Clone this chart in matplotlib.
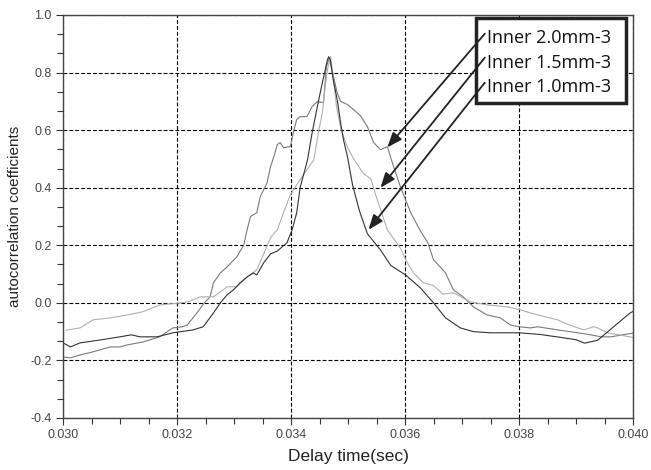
import matplotlib
matplotlib.use("Agg")
import matplotlib.pyplot as plt
from matplotlib.ticker import AutoMinorLocator
from matplotlib.patches import Rectangle

# ---- data ----
x_20 = [0.03000, 0.03013, 0.03030, 0.03053, 0.03083, 0.03100, 0.03113, 0.03140, 0.03170, 0.03180,
        0.03193, 0.03210, 0.03218, 0.03235, 0.03248, 0.03258, 0.03264, 0.03276, 0.03288, 0.03305,
        0.03317, 0.03323, 0.03329, 0.03340, 0.03346, 0.03358, 0.03364, 0.03370, 0.03376, 0.03381,
        0.03387, 0.03399, 0.03404, 0.03410, 0.03416, 0.03428, 0.03437, 0.03446, 0.03457, 0.03462,
        0.03467, 0.03473, 0.03481, 0.03487, 0.03499, 0.03510, 0.03522, 0.03534, 0.03545, 0.03557,
        0.03569, 0.03580, 0.03592, 0.03610, 0.03627, 0.03640, 0.03650, 0.03671, 0.03685, 0.03702,
        0.03720, 0.03744, 0.03767, 0.03785, 0.03800, 0.03820, 0.03833, 0.03868, 0.03903, 0.03926,
        0.03944, 0.03961, 0.04000]
y_20 = [-0.188, -0.191, -0.181, -0.170, -0.153, -0.153, -0.146, -0.136, -0.118, -0.104,
        -0.087, -0.083, -0.077, -0.035, 0.000, 0.021, 0.070, 0.104, 0.125, 0.160,
        0.200, 0.254, 0.300, 0.313, 0.369, 0.417, 0.473, 0.508, 0.550, 0.557,
        0.539, 0.543, 0.591, 0.637, 0.647, 0.647, 0.682, 0.699, 0.696, 0.820,
        0.850, 0.800, 0.730, 0.700, 0.689, 0.671, 0.650, 0.612, 0.557, 0.532,
        0.543, 0.473, 0.403, 0.313, 0.250, 0.209, 0.150, 0.104, 0.045, 0.021,
        -0.014, -0.042, -0.052, -0.077, -0.083, -0.087, -0.083, -0.094, -0.104, -0.111,
        -0.118, -0.118, -0.105]

x_15 = [0.03005, 0.03030, 0.03053, 0.03083, 0.03113, 0.03140, 0.03170, 0.03193, 0.03218, 0.03241,
        0.03264, 0.03276, 0.03288, 0.03305, 0.03323, 0.03340, 0.03352, 0.03364, 0.03376, 0.03390,
        0.03399, 0.03416, 0.03440, 0.03448, 0.03455, 0.03460, 0.03464, 0.03469, 0.03473, 0.03480,
        0.03488, 0.03499, 0.03510, 0.03527, 0.03540, 0.03551, 0.03569, 0.03592, 0.03604, 0.03615,
        0.03632, 0.03650, 0.03667, 0.03685, 0.03715, 0.03744, 0.03779, 0.03802, 0.03820, 0.03847,
        0.03868, 0.03880, 0.03903, 0.03914, 0.03931, 0.03938, 0.03955, 0.04000]
y_15 = [-0.095, -0.087, -0.059, -0.052, -0.042, -0.031, -0.007, -0.003, 0.003, 0.021,
        0.021, 0.038, 0.056, 0.056, 0.090, 0.115, 0.170, 0.226, 0.254, 0.330,
        0.376, 0.428, 0.497, 0.590, 0.660, 0.750, 0.810, 0.856, 0.800, 0.680,
        0.600, 0.540, 0.500, 0.450, 0.430, 0.360, 0.254, 0.190, 0.139, 0.104,
        0.070, 0.060, 0.030, 0.035, 0.003, -0.007, -0.014, -0.024, -0.035, -0.049,
        -0.059, -0.070, -0.087, -0.094, -0.083, -0.087, -0.104, -0.120]

x_10 = [0.03000, 0.03013, 0.03030, 0.03065, 0.03100, 0.03120, 0.03135, 0.03165, 0.03193, 0.03228,
        0.03246, 0.03264, 0.03276, 0.03288, 0.03299, 0.03311, 0.03323, 0.03334, 0.03340, 0.03352,
        0.03364, 0.03376, 0.03393, 0.03402, 0.03410, 0.03416, 0.03429, 0.03437, 0.03446, 0.03455,
        0.03464, 0.03466, 0.03469, 0.03474, 0.03481, 0.03487, 0.03492, 0.03499, 0.03508, 0.03520,
        0.03534, 0.03557, 0.03575, 0.03601, 0.03627, 0.03650, 0.03671, 0.03697, 0.03720, 0.03750,
        0.03800, 0.03838, 0.03873, 0.03900, 0.03915, 0.03938, 0.03966, 0.03995, 0.04000]
y_10 = [-0.139, -0.153, -0.139, -0.129, -0.118, -0.111, -0.118, -0.118, -0.104, -0.094,
        -0.083, -0.035, 0.000, 0.028, 0.045, 0.070, 0.090, 0.104, 0.097, 0.139,
        0.170, 0.180, 0.209, 0.254, 0.313, 0.400, 0.497, 0.590, 0.680, 0.765,
        0.845, 0.855, 0.845, 0.776, 0.706, 0.626, 0.567, 0.508, 0.410, 0.320,
        0.240, 0.184, 0.130, 0.097, 0.052, 0.000, -0.052, -0.087, -0.100, -0.104,
        -0.104, -0.110, -0.120, -0.128, -0.140, -0.130, -0.083, -0.035, -0.030]

labels = ["Inner 2.0mm-3", "Inner 1.5mm-3", "Inner 1.0mm-3"]
arrow_tips_x = [0.03569, 0.03557, 0.03536]
arrow_tips_y = [0.540, 0.400, 0.254]

x_ticks = [0.030, 0.032, 0.034, 0.036, 0.038, 0.040]
y_ticks = [-0.4, -0.2, 0.0, 0.2, 0.4, 0.6, 0.8, 1.0]

# ---- figure ----
fig = plt.figure(figsize=(6.51, 4.70), dpi=100)
ax = fig.add_axes([63/651, 1-418/470, (633-63)/651, (418-15)/470])

ax.plot(x_20, y_20, color="#7a7a7a", lw=0.8)
ax.plot(x_15, y_15, color="#b0b0b0", lw=0.8)
ax.plot(x_10, y_10, color="#333333", lw=0.8)

ax.set_xlim(0.030, 0.040)
ax.set_ylim(-0.4, 1.0)
ax.set_xticks(x_ticks)
ax.set_xticklabels([f"{v:.3f}" for v in x_ticks])
ax.set_yticks(y_ticks)
ax.set_yticklabels([f"{v:.1f}" for v in y_ticks])
ax.xaxis.set_minor_locator(AutoMinorLocator(4))
ax.yaxis.set_minor_locator(AutoMinorLocator(3))
ax.tick_params(which="major", direction="out", length=5, width=0.8, color="#333333",
               labelsize=9, labelcolor="#444444", pad=3)
ax.tick_params(which="minor", direction="out", length=4, width=0.8, color="#333333")
ax.grid(True, which="major", color="black", linestyle=(0, (3.5, 1.8)), linewidth=0.8)
for s in ax.spines.values():
    s.set_color("#444444")
    s.set_linewidth(1.0)

ax.set_xlabel("Delay time(sec)", fontsize=12.5, family="Liberation Sans", color="#222222", labelpad=6)
ax.set_ylabel("autocorrelation coefficients", fontsize=11, family="Liberation Sans", color="#222222",
              labelpad=6)
for lab in ax.get_xticklabels() + ax.get_yticklabels():
    lab.set_family("Liberation Sans")

# legend-like annotation box
box = Rectangle((0.03725, 0.696), 0.03988 - 0.03725, 0.991 - 0.696, facecolor="white",
                edgecolor="#222222", linewidth=2.5, zorder=5)
ax.add_patch(box)
text_y = [0.92, 0.834, 0.75]
start_y = [0.935, 0.852, 0.765]
for lab, ty, sy, tx, tyy in zip(labels, text_y, start_y, arrow_tips_x, arrow_tips_y):
    ax.text(0.03744, ty, lab, fontsize=13, family="Open Sans", va="center", ha="left",
            color="#111111", zorder=6)
    ax.annotate("", xy=(tx, tyy), xytext=(0.03740, sy),
                arrowprops=dict(arrowstyle="-|>,head_length=0.9,head_width=0.35",
                                color="#222222", lw=1.3, shrinkA=0, shrinkB=0),
                zorder=7)

fig.savefig("out.png", dpi=100)
